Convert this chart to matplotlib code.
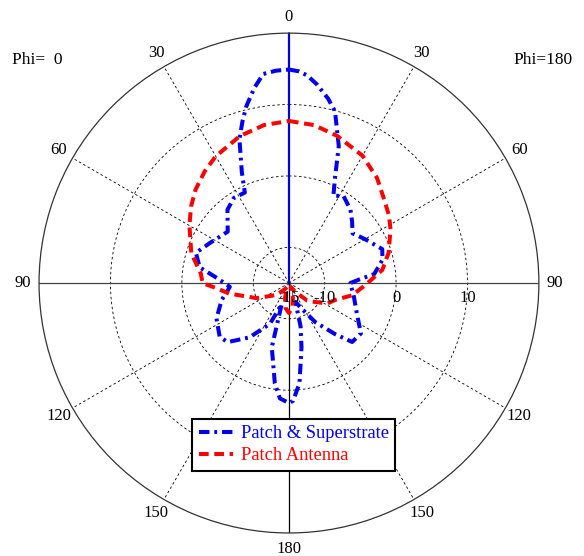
import numpy as np
import matplotlib
matplotlib.use('Agg')
import matplotlib.pyplot as plt
import matplotlib.transforms as mtransforms

# Data (elevation angle in degrees, gain in dB)
# Phi=180 side (right half)
sup_ang_180 = [0, 2.5, 5, 8, 12, 15, 20, 23.4, 27, 32, 40, 46, 52, 60, 70, 76, 84, 87, 90,
               102, 114, 125, 133, 138, 146, 154, 161, 165, 169, 174, 178, 180]
sup_db_180 = [14.9, 14.7, 14.2, 13.1, 11.4, 9.9, 5.4, 1.3, -1.3, -0.6, -1.6, -2.7, -3.7, -2.7, -1.1, -1.5, -3.0, -5.1, -6.4,
              -5.7, -4.6, -2.7, -2.9, -5.4, -8.4, -11.1, -12.2, -8.7, -5.8, -0.9, 1.5, 1.8]
# Phi=0 side (left half)
sup_ang_0 = [0, 3.5, 7, 10, 13.5, 16, 19, 23, 26, 33, 40, 50, 63, 72, 80, 86, 93.6, 99, 104,
             116, 128, 134, 144, 155, 161, 165, 172, 175.5, 180]
sup_db_0 = [14.9, 14.8, 14.5, 12.8, 10.5, 8.6, 6.3, 1.9, -0.9, -0.8, -1.6, -3.8, -2.6, -1.3, -2.3, -4.9, -6.7, -6.1, -5.3,
            -3.7, -2.7, -3.1, -5.6, -8.7, -11.9, -5.7, -0.8, 1.2, 1.8]

patch_ang_180 = [0, 9, 18, 30, 40, 49, 56, 62, 73, 82, 91.5, 101, 110, 118, 126, 134, 145, 155, 165, 172, 180]
patch_db_180 = [7.7, 7.4, 6.7, 5.6, 4.2, 2.7, 1.9, 1.1, -0.4, -1.8, -4.3, -6.0, -8.1, -8.9, -10.5, -11.5, -13.6, -14.4, -12.9, -11.5, -10.8]
patch_ang_0 = [0, 9, 18.5, 30, 37, 45, 52, 60, 73, 84, 90, 94, 100, 115, 134, 145, 155, 165, 172, 180]
patch_db_0 = [7.7, 7.4, 6.7, 5.5, 4.6, 3.5, 2.4, 1.1, -0.7, -2.6, -2.9, -4.8, -6.5, -10.0, -12.6, -13.9, -14.4, -12.9, -11.5, -10.8]

angle_ticks = [0, 30, 60, 90, 120, 150, 180, 210, 240, 270, 300, 330]
angle_labels = ['0', '30', '60', '90', '120', '150', '180', '150', '120', '90', '60', '30']
r_ticks = [-15, -10, 0, 10]
r_min, r_max = -15, 20

serif = ['Liberation Serif', 'DejaVu Serif']


def full_curve(ang_right, db_right, ang_left, db_left):
    # right half plotted clockwise from top, left half mirrored
    th = list(ang_right) + [360 - a for a in ang_left[::-1]]
    r = list(db_right) + list(db_left[::-1])
    return np.deg2rad(th), np.array(r)


fig = plt.figure(figsize=(5.84, 5.56), dpi=100)
ax = fig.add_axes([0.0668, 0.0414, 0.856, 0.899], projection='polar')
ax.set_theta_zero_location('N')
ax.set_theta_direction(-1)
ax.set_ylim(r_min, r_max)

ax.set_xticks(np.deg2rad(angle_ticks))
ax.set_xticklabels(angle_labels, fontfamily=serif, fontsize=12)
ax.tick_params(axis='x', pad=1)
ax.set_yticks(r_ticks[1:])
ax.set_yticklabels([])
ax.grid(True, color='black', linestyle=(0, (3, 3)), linewidth=0.6)
ax.spines['polar'].set_color('#333333')
ax.spines['polar'].set_linewidth(0.9)

# solid axis lines
ax.plot([np.pi / 2, np.pi / 2], [r_min, r_max], color='#444444', lw=0.9)
ax.plot([3 * np.pi / 2, 3 * np.pi / 2], [r_min, r_max], color='#444444', lw=0.9)
ax.plot([np.pi, np.pi], [r_min, r_max], color='black', lw=0.9)
ax.plot([0, 0], [r_min, r_max], color='#0000dd', lw=1.6)

th, r = full_curve(sup_ang_180, sup_db_180, sup_ang_0, sup_db_0)
ax.plot(th, r, color='#0000ee', lw=2.9, linestyle=(0, (2.6, 1.2, 0.7, 1.2)),
        label='Patch & Superstrate')
th, r = full_curve(patch_ang_180, patch_db_180, patch_ang_0, patch_db_0)
ax.plot(th, r, color='#ff0000', lw=2.9, linestyle=(0, (2.4, 1.4)), label='Patch Antenna')

# radial tick labels below the horizontal axis
off = mtransforms.offset_copy(ax.transData, fig=fig, x=0, y=-7, units='dots')
for v in r_ticks:
    ax.text(np.pi / 2, v, str(v), transform=off, ha='center', va='top',
            fontfamily=serif, fontsize=12)

fig.text(0.02, 0.892, 'Phi=  0', fontfamily=serif, fontsize=12.5, va='center')
fig.text(0.88, 0.892, 'Phi=180', fontfamily=serif, fontsize=12.5, va='center')

leg = fig.legend(loc='center', bbox_to_anchor=(0.503, 0.2), prop={'family': serif, 'size': 13.3},
                 handlelength=1.85, handletextpad=0.45, fancybox=False, framealpha=1,
                 edgecolor='black', borderpad=0.35, labelspacing=0.25)
leg.get_frame().set_linewidth(1.5)
for text, line in zip(leg.get_texts(), leg.get_lines()):
    text.set_color(line.get_color())

fig.savefig('out.png', dpi=100)
